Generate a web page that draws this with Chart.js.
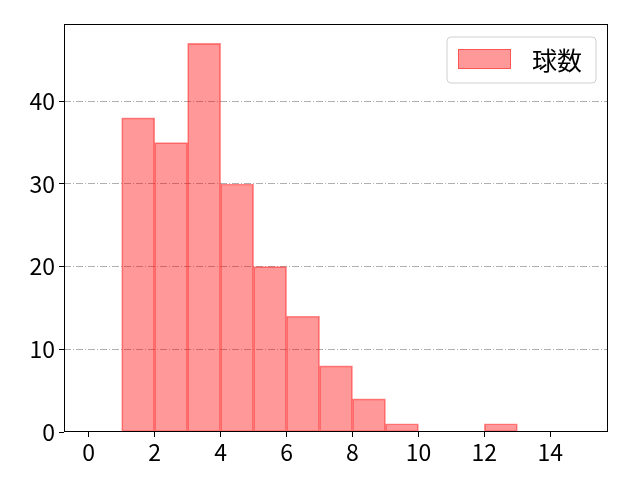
<!DOCTYPE html>
<html>
<head>
<meta charset="utf-8">
<script src="https://cdn.jsdelivr.net/npm/chart.js@4.4.0/dist/chart.umd.min.js"></script>
<style>
  html, body { margin: 0; padding: 0; background: #fff; }
  #wrap { width: 640px; height: 480px; }
</style>
</head>
<body>
<div id="wrap"><canvas id="chart" width="640" height="480"></canvas></div>
<script>
  // histogram bins (left edges) and counts
  const binStarts = [0, 1, 2, 3, 4, 5, 6, 7, 8, 9, 10, 11, 12, 13, 14];
  const counts = [0, 38, 35, 47, 30, 20, 14, 8, 4, 1, 0, 0, 1, 0, 0];
  const xTicks = [0, 2, 4, 6, 8, 10, 12, 14];
  const yTicks = [0, 10, 20, 30, 40];
  const seriesLabel = '球数';

  const FONT = '"Noto Sans CJK JP", "Noto Sans", sans-serif';

  // frame + legend drawn like matplotlib
  const framePlugin = {
    id: 'frame',
    afterDraw(chart) {
      const { ctx, chartArea: a } = chart;
      ctx.save();
      ctx.strokeStyle = '#000';
      ctx.lineWidth = 1;
      ctx.strokeRect(a.left + 0.5, a.top + 0.5, a.right - a.left - 1, a.bottom - a.top - 1);

      // legend box
      const lx = 447, ly = 37, lw = 149, lh = 46, r = 4;
      ctx.beginPath();
      ctx.moveTo(lx + r, ly);
      ctx.arcTo(lx + lw, ly, lx + lw, ly + lh, r);
      ctx.arcTo(lx + lw, ly + lh, lx, ly + lh, r);
      ctx.arcTo(lx, ly + lh, lx, ly, r);
      ctx.arcTo(lx, ly, lx + lw, ly, r);
      ctx.closePath();
      ctx.fillStyle = 'rgba(255,255,255,0.8)';
      ctx.fill();
      ctx.strokeStyle = '#d0d0d0';
      ctx.stroke();
      const ds = chart.data.datasets[0];
      ctx.fillStyle = ds.backgroundColor;
      ctx.fillRect(458, 49, 53, 20);
      ctx.strokeStyle = ds.borderColor;
      ctx.strokeRect(458.5, 49.5, 52, 19);
      ctx.fillStyle = '#000';
      ctx.font = '25px ' + FONT;
      ctx.textBaseline = 'middle';
      ctx.fillText(ds.label, 532, 60);
      ctx.restore();
    }
  };

  new Chart(document.getElementById('chart'), {
    type: 'bar',
    data: {
      datasets: [{
        label: seriesLabel,
        data: binStarts.map((b, i) => ({ x: b + 0.5, y: counts[i] })),
        backgroundColor: 'rgba(255,0,0,0.4)',
        borderColor: 'rgba(255,0,0,0.45)',
        borderWidth: 1,
        borderSkipped: false,
        inflateAmount: 0.35,
        barPercentage: 1,
        categoryPercentage: 1
      }]
    },
    options: {
      responsive: false,
      animation: false,
      layout: { padding: { top: 24, right: 32, left: 0, bottom: 0 } },
      plugins: { legend: { display: false }, tooltip: { enabled: false } },
      scales: {
        x: {
          type: 'linear',
          offset: false,
          min: -0.75, max: 15.75,
          afterBuildTicks: s => { s.ticks = xTicks.map(v => ({ value: v })); },
          afterFit: s => { s.height = 48; },
          grid: { offset: false, drawOnChartArea: false, drawTicks: true, tickLength: 5, tickColor: '#000' },
          border: { display: false },
          ticks: { color: '#000', font: { family: FONT, size: 23 }, padding: 1, maxRotation: 0 }
        },
        y: {
          min: 0, max: 49.35,
          afterBuildTicks: s => { s.ticks = yTicks.map(v => ({ value: v })); },
          afterFit: s => { s.width = 64; },
          grid: {
            color: ctx => ctx.tick && ctx.tick.value === 0 ? 'rgba(0,0,0,0)' : '#b0b0b0',
            lineWidth: 1,
            tickLength: 5, tickColor: '#000', tickBorderDash: []
          },
          border: { display: false, dash: [7, 2, 1, 2] },
          ticks: { color: '#000', font: { family: FONT, size: 23 }, padding: 4 }
        }
      }
    },
    plugins: [framePlugin]
  });
</script>
</body>
</html>
